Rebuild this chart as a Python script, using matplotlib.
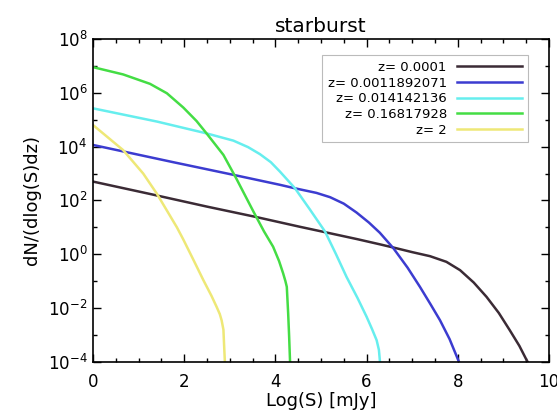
import numpy as np
import matplotlib
matplotlib.use("Agg")
from matplotlib import pyplot as plt
from matplotlib.ticker import FixedLocator, FixedFormatter

# curve samples: x = Log(S), y = log10(dN/(dlog(S)dz))
labels = ["z= 0.0001", "z= 0.0011892071", "z= 0.014142136", "z= 0.16817928", "z= 2"]
colors = ["#3b2b35", "#3c3cd0", "#66eeee", "#44dd44", "#eee877"]

x_z0 = [0.0, 1.25, 2.5, 3.59, 4.54, 5.09, 5.8, 6.29, 6.59, 7.0, 7.39, 7.75,
        8.05, 8.35, 8.63, 8.9, 9.14, 9.35, 9.51, 9.6]
y_z0 = [2.70, 2.24, 1.77, 1.38, 1.02, 0.82, 0.56, 0.37, 0.25, 0.08, -0.07, -0.28,
        -0.59, -1.05, -1.58, -2.18, -2.82, -3.4, -3.93, -4.2]

x_z1 = [0.0, 0.66, 1.76, 3.08, 3.66, 4.10, 4.43, 4.9, 5.20, 5.5, 5.78, 6.05, 6.29, 6.59,
        6.9, 7.17, 7.4, 7.61, 7.82, 8.01, 8.1]
y_z1 = [4.06, 3.82, 3.42, 2.95, 2.74, 2.58, 2.45, 2.28, 2.12, 1.88, 1.55, 1.18, 0.80, 0.22,
        -0.5, -1.21, -1.85, -2.45, -3.15, -3.93, -4.3]

x_z2 = [0.0, 1.40, 2.49, 3.08, 3.4, 3.66, 3.9, 4.10, 4.43, 4.75, 5.09, 5.33, 5.56, 5.8, 6.0,
        6.12, 6.22, 6.27, 6.29, 6.31]
y_z2 = [5.42, 4.93, 4.49, 4.22, 3.98, 3.72, 3.42, 3.07, 2.45, 1.68, 0.84, 0.0, -0.84, -1.62, -2.32,
        -2.78, -3.19, -3.55, -3.93, -4.3]

x_z3 = [0.0, 0.66, 1.25, 1.62, 1.98, 2.27, 2.49, 2.86, 3.15, 3.52, 3.75, 3.95, 4.08, 4.17,
        4.22, 4.25, 4.28, 4.30, 4.32, 4.33]
y_z3 = [6.95, 6.68, 6.33, 5.98, 5.45, 4.95, 4.49, 3.69, 2.79, 1.58, 0.85, 0.28, -0.25, -0.71,
        -1.0, -1.21, -2.2, -3.0, -3.93, -4.3]

x_z4 = [0.0, 0.66, 1.10, 1.40, 1.84, 1.98, 2.2, 2.42, 2.6, 2.71, 2.78, 2.82, 2.86,
        2.87, 2.89, 2.90]
y_z4 = [4.80, 3.87, 3.0, 2.25, 1.0, 0.55, -0.2, -0.96, -1.55, -1.95, -2.22, -2.45, -2.8,
        -3.19, -3.93, -4.3]

curves = [(x_z0, y_z0), (x_z1, y_z1), (x_z2, y_z2), (x_z3, y_z3), (x_z4, y_z4)]

plt.rcParams["font.family"] = ["DejaVu Sans"]
plt.rcParams["mathtext.fontset"] = "dejavusans"

fig = plt.figure(figsize=(5.57, 4.18), dpi=100)
ax = fig.add_axes([0.167, 0.134, 0.8186, 0.773])

for (xs, ys), lab, col in zip(curves, labels, colors):
    ax.semilogy(xs, 10.0 ** np.array(ys), color=col, lw=1.8, label=lab)

ax.set_xlim(0, 10)
ax.set_ylim(1e-4, 1e8)

ax.xaxis.set_major_locator(FixedLocator([0, 2, 4, 6, 8, 10]))
ax.xaxis.set_minor_locator(FixedLocator(np.arange(0, 10.01, 0.5)))
major_y = [1e-4, 1e-2, 1e0, 1e2, 1e4, 1e6, 1e8]
ax.yaxis.set_major_locator(FixedLocator(major_y))
ax.yaxis.set_major_formatter(FixedFormatter([r"$10^{-4}$", r"$10^{-2}$", r"$10^{0}$", r"$10^{2}$",
                                             r"$10^{4}$", r"$10^{6}$", r"$10^{8}$"]))
ax.yaxis.set_minor_locator(FixedLocator([1e-3, 1e-1, 1e1, 1e3, 1e5, 1e7]))
ax.yaxis.set_minor_formatter(FixedFormatter([""] * 6))

ax.tick_params(which="both", direction="in", top=True, right=True, labelsize=12, width=1)
ax.tick_params(which="major", length=6)
ax.tick_params(axis="x", which="major", pad=8)
ax.tick_params(axis="y", which="major", pad=4)
ax.tick_params(which="minor", length=3)
for s in ax.spines.values():
    s.set_linewidth(1.2)

ax.set_title("starburst", fontsize=14.5, pad=5)
ax.set_xlabel("Log(S) [mJy]", fontsize=13, labelpad=1)
ax.set_ylabel("dN/(dlog(S)dz)", fontsize=13, labelpad=5)

leg = ax.legend(loc="upper right", bbox_to_anchor=(0.954, 0.950), borderaxespad=0,
                markerfirst=False, fontsize=9.5, handlelength=4.9, labelspacing=0.2,
                borderpad=0.45, fancybox=False, framealpha=1, edgecolor="#bbbbbb",
                handletextpad=0.8)
leg.get_frame().set_linewidth(0.8)

fig.savefig("out.png", dpi=100)
